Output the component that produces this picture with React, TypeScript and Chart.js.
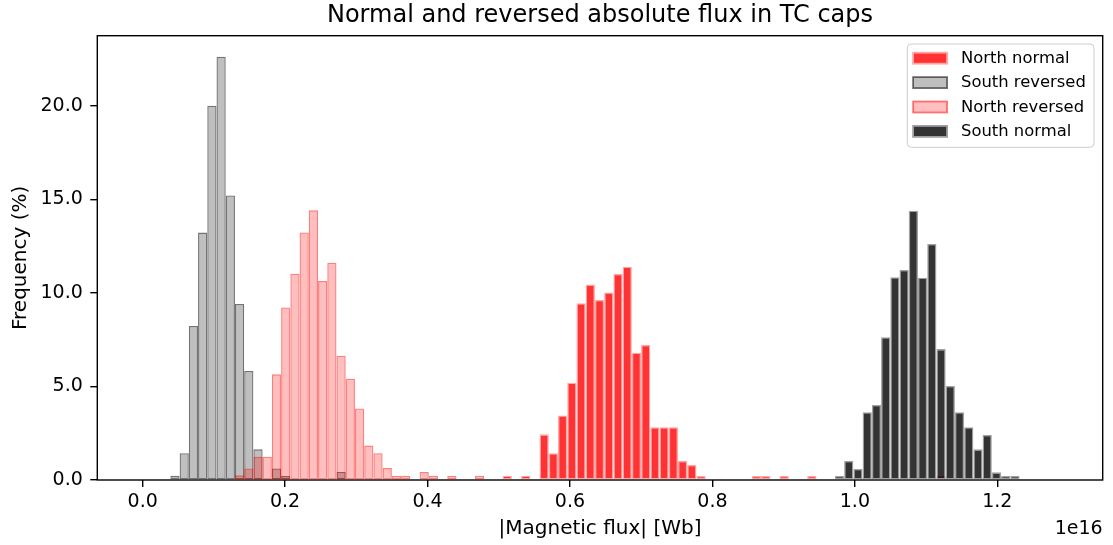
import React, { useEffect, useRef } from 'react';
import { Chart, registerables } from 'chart.js';

Chart.register(...registerables);

const TITLE = 'Normal and reversed absolute flux in TC caps';
const X_LABEL = '|Magnetic flux| [Wb]';
const Y_LABEL = 'Frequency (%)';
const X_OFFSET_LABEL = '1e16';

// histogram bins (x in units of 1e16 Wb)
const BIN_WIDTH = 0.01296;
const X_TICKS = [0.0, 0.2, 0.4, 0.6, 0.8, 1.0, 1.2];
const Y_TICKS = [0, 5, 10, 15, 20];
const X_MIN = -0.0637;
const X_MAX = 1.348;
const Y_MAX = 23.76;

const SERIES_LABELS = ['North normal', 'South reversed', 'North reversed', 'South normal'];

// frequencies (%) per bin, starting at the given bin index
const NORTH_NORMAL_START = 39;
const NORTH_NORMAL = [
  0.23, 0, 0.23, 0, 2.44, 1.43, 3.45, 5.2, 9.45, 10.45, 9.63, 10.03, 11.02, 11.41,
  6.81, 7.22, 2.82, 2.82, 2.82, 1.02, 0.8, 0.21, 0, 0, 0, 0, 0, 0.21, 0.21, 0, 0.21,
  0, 0, 0.21, 0, 0, 0, 0, 0, 0, 0, 0, 0, 0, 0, 0, 0, 0.21,
];

const SOUTH_REVERSED_START = 3;
const SOUTH_REVERSED = [
  0.23, 1.43, 8.24, 13.23, 20.02, 22.64, 15.22, 9.41, 5.83, 1.64, 0, 0.62, 0.21,
  0, 0, 0, 0, 0, 0.43,
];

const NORTH_REVERSED_START = 10;
const NORTH_REVERSED = [
  0.25, 0.62, 1.25, 1.25, 5.65, 9.23, 11.03, 13.24, 14.42, 10.64, 11.62, 6.65, 5.42,
  3.83, 1.84, 1.43, 0.64, 0.23, 0.23, 0, 0.43, 0.23, 0, 0.23, 0, 0, 0.23,
];

const SOUTH_NORMAL_START = 75;
const SOUTH_NORMAL = [
  0.22, 1.02, 0.59, 3.62, 4.01, 7.63, 10.84, 11.23, 14.4, 10.82, 12.62, 7.0, 5.03,
  3.62, 2.82, 1.64, 2.41, 0.41, 0.21, 0.21,
];

const FILL_COLORS = ['rgba(255,0,0,0.8)', 'rgba(128,128,128,0.5)', 'rgba(255,0,0,0.25)', 'rgba(0,0,0,0.8)'];
const EDGE_COLORS = ['rgba(255,165,165,1)', 'rgba(0,0,0,0.55)', 'rgba(255,0,0,0.5)', 'rgba(160,160,160,1)'];

const FONT = 'DejaVu Sans';

function toPoints(start: number, values: number[]) {
  return values.map((v, i) => ({ x: (start + i + 0.5) * BIN_WIDTH, y: v }));
}

const framePlugin = {
  id: 'axesFrame',
  afterDatasetsDraw(chart: any) {
    const { ctx, chartArea: a } = chart;
    ctx.save();
    ctx.strokeStyle = '#000';
    ctx.lineWidth = 1.4;
    ctx.strokeRect(a.left, a.top, a.right - a.left, a.bottom - a.top);
    // offset text for x axis
    ctx.fillStyle = '#000';
    ctx.font = `19px "${FONT}"`;
    ctx.textAlign = 'right';
    ctx.textBaseline = 'alphabetic';
    ctx.fillText(X_OFFSET_LABEL, a.right, 534);
    ctx.restore();
  },
};

const legendPlugin = {
  id: 'boxLegend',
  afterDatasetsDraw(chart: any) {
    const { ctx, chartArea: a } = chart;
    const right = a.right - 8.7;
    const left = right - 186.7;
    const top = a.top + 8.3;
    const bottom = top + 103.3;
    ctx.save();
    ctx.beginPath();
    const r = 4;
    ctx.moveTo(left + r, top);
    ctx.lineTo(right - r, top);
    ctx.arcTo(right, top, right, top + r, r);
    ctx.lineTo(right, bottom - r);
    ctx.arcTo(right, bottom, right - r, bottom, r);
    ctx.lineTo(left + r, bottom);
    ctx.arcTo(left, bottom, left, bottom - r, r);
    ctx.lineTo(left, top + r);
    ctx.arcTo(left, top, left + r, top, r);
    ctx.closePath();
    ctx.fillStyle = 'rgba(255,255,255,0.8)';
    ctx.fill();
    ctx.strokeStyle = '#cccccc';
    ctx.lineWidth = 1;
    ctx.stroke();
    ctx.font = `16.4px "${FONT}"`;
    ctx.textAlign = 'left';
    ctx.textBaseline = 'middle';
    SERIES_LABELS.forEach((label, i) => {
      const cy = top + 14.2 + i * 24.4;
      const px = left + 5.8;
      const pw = 34;
      const ph = 11;
      ctx.fillStyle = FILL_COLORS[i];
      ctx.fillRect(px, cy - ph / 2, pw, ph);
      ctx.strokeStyle = EDGE_COLORS[i];
      ctx.lineWidth = 1.8;
      ctx.strokeRect(px, cy - ph / 2, pw, ph);
      ctx.fillStyle = '#000';
      ctx.fillText(label, left + 53.7, cy + 0.5);
    });
    ctx.restore();
  },
};

export default function App() {
  const ref = useRef<HTMLCanvasElement | null>(null);

  useEffect(() => {
    if (!ref.current) return;
    Chart.defaults.font.family = FONT;
    Chart.defaults.color = '#000';
    const series = [
      toPoints(NORTH_NORMAL_START, NORTH_NORMAL),
      toPoints(SOUTH_REVERSED_START, SOUTH_REVERSED),
      toPoints(NORTH_REVERSED_START, NORTH_REVERSED),
      toPoints(SOUTH_NORMAL_START, SOUTH_NORMAL),
    ];
    const chart = new Chart(ref.current, {
      type: 'bar',
      data: {
        datasets: series.map((data, i) => ({
          label: SERIES_LABELS[i],
          data,
          backgroundColor: FILL_COLORS[i],
          borderColor: EDGE_COLORS[i],
          borderWidth: 1.3,
          borderSkipped: false,
          inflateAmount: 0,
          grouped: false,
          barPercentage: 1,
          categoryPercentage: 1,
          order: 4 - i,
        })),
      },
      options: {
        animation: false,
        responsive: true,
        maintainAspectRatio: false,
        layout: { padding: { left: 0, right: 10.3, top: 0, bottom: 0 } },
        plugins: {
          legend: { display: false },
          tooltip: { enabled: false },
          title: {
            display: true,
            text: TITLE,
            fullSize: false,
            color: '#000',
            font: { size: 24, weight: 'normal', family: FONT },
            padding: { top: 1.6, bottom: 5.3 },
          },
        },
        scales: {
          x: {
            type: 'linear',
            min: X_MIN,
            max: X_MAX,
            offset: false,
            afterBuildTicks: (s: any) => {
              s.ticks = X_TICKS.map((v) => ({ value: v }));
            },
            afterFit: (s: any) => {
              s.height = 65;
            },
            grid: {
              display: true,
              offset: false,
              drawOnChartArea: false,
              drawTicks: true,
              tickLength: 7,
              tickColor: '#000',
              tickWidth: 1.4,
              lineWidth: 1.4,
              color: '#000',
            },
            border: { display: false },
            ticks: {
              color: '#000',
              font: { size: 19, family: FONT },
              padding: 4,
              maxRotation: 0,
              autoSkip: false,
              callback: (v: any) => Number(v).toFixed(1),
            },
            title: {
              display: true,
              text: X_LABEL,
              color: '#000',
              font: { size: 20, family: FONT },
              padding: { top: 0, bottom: 4.5 },
            },
          },
          y: {
            type: 'linear',
            min: 0,
            max: Y_MAX,
            afterBuildTicks: (s: any) => {
              s.ticks = Y_TICKS.map((v) => ({ value: v }));
            },
            afterFit: (s: any) => {
              s.width = 97.3;
            },
            grid: {
              display: true,
              drawOnChartArea: false,
              drawTicks: true,
              tickLength: 7,
              tickColor: '#000',
              tickWidth: 1.4,
              lineWidth: 1.4,
              color: '#000',
            },
            border: { display: false },
            ticks: {
              color: '#000',
              font: { size: 19, family: FONT },
              padding: 7.5,
              autoSkip: false,
              callback: (v: any) => Number(v).toFixed(1),
            },
            title: {
              display: true,
              text: Y_LABEL,
              color: '#000',
              font: { size: 20, family: FONT },
              padding: { top: 9, bottom: 0 },
            },
          },
        },
      },
      plugins: [framePlugin, legendPlugin],
    } as any);
    return () => chart.destroy();
  }, []);

  return (
    <div style={{ position: 'absolute', left: 0, top: 0, width: 1113, height: 545, background: '#fff' }}>
      <canvas ref={ref} />
    </div>
  );
}
